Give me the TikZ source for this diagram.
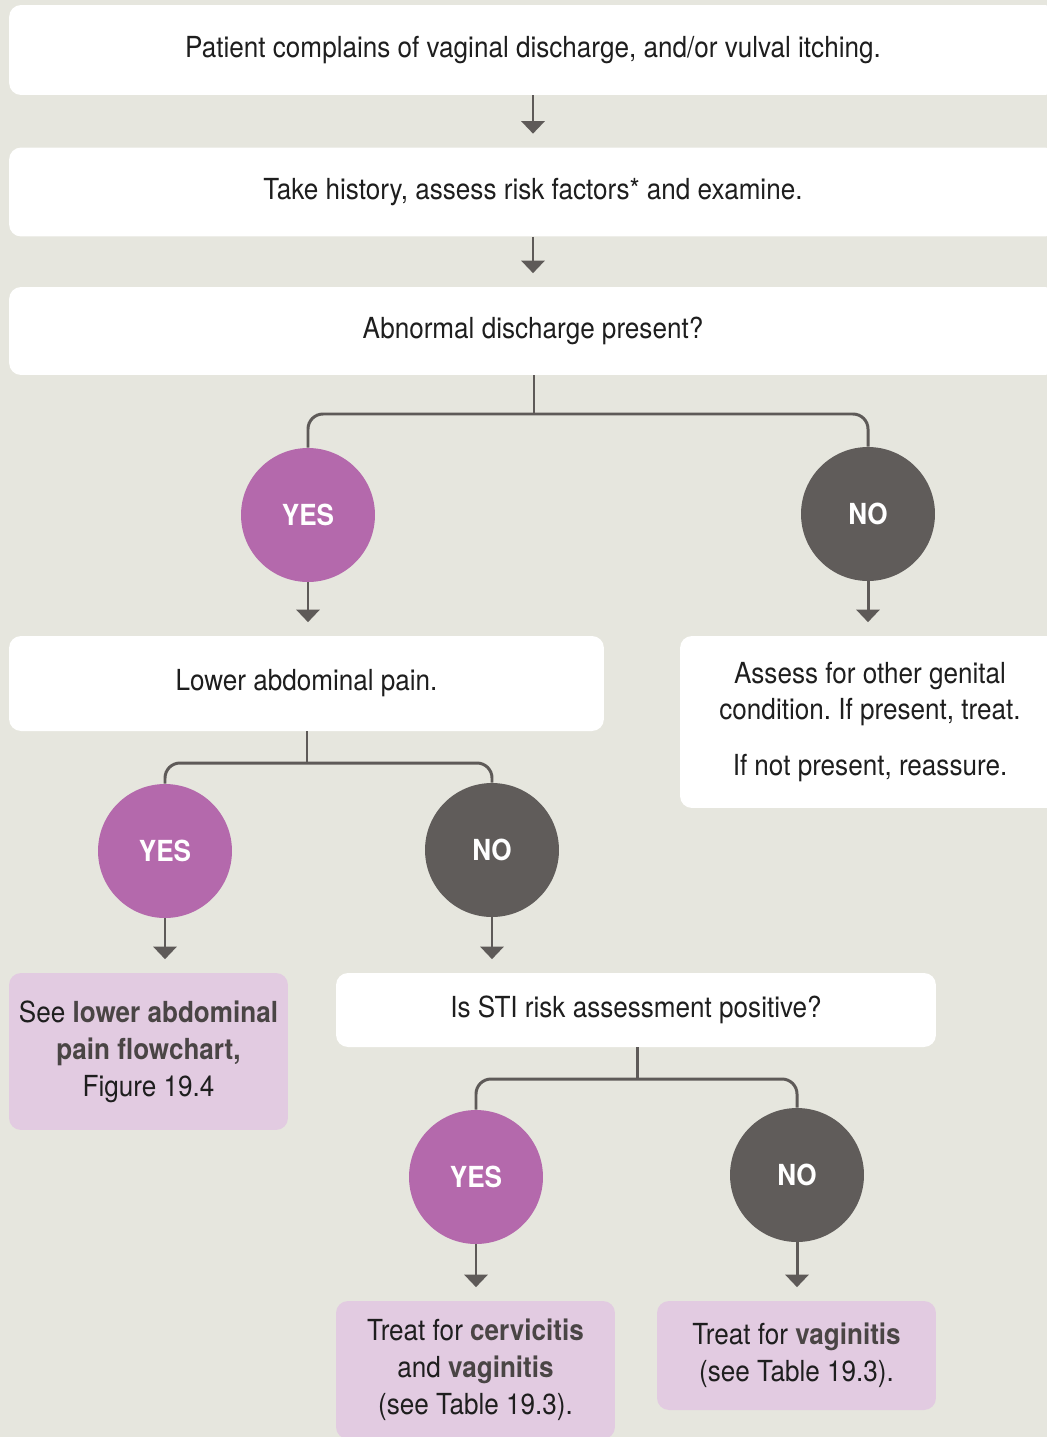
\documentclass[tikz,border=0pt]{standalone}
\usepackage{fontspec}
\setmainfont{TeX Gyre Heros}[FakeStretch=0.9]
\usetikzlibrary{arrows.meta}

\definecolor{bgcol}{HTML}{E6E6DE}
\definecolor{yescol}{HTML}{B469AC}
\definecolor{nocol}{HTML}{605C5A}
\definecolor{lilac}{HTML}{E2CBE1}
\definecolor{linecol}{HTML}{5E5A58}
\definecolor{boldcol}{HTML}{4A4545}
\definecolor{txtcol}{HTML}{1E1E1E}
\newcommand\keyw[1]{{\bfseries\color{boldcol}#1}}
\frenchspacing

\begin{document}
\begin{tikzpicture}[x=0.02cm,y=-0.02cm,
    every node/.style={font=\fontsize{16.5}{21}\selectfont,text=txtcol},
    box/.style={fill=white,rounded corners=0.24cm,align=center,inner sep=0pt},
    pinkbox/.style={box,fill=lilac},
    yes/.style={circle,fill=yescol,minimum size=2.68cm,inner sep=0pt,text=white,
        font=\fontsize{16.5}{21}\selectfont\bfseries},
    no/.style={yes,fill=nocol},
    conn/.style={draw=linecol,line width=1.7pt},
    fork/.style={conn,rounded corners=0.3cm},
    arr/.style={conn,-{Triangle[width=0.46cm,length=0.25cm]},shorten >=0.27cm}]
    % background and frame
    \fill[bgcol] (0,0) rectangle (1047,1437);
    \clip (0,0) rectangle (1047,1437);
    % boxes
    \node[box,minimum width=20.96cm,minimum height=1.8cm] (start) at (533,50)
        {Patient complains of vaginal discharge, and/or vulval itching.};
    \node[box,minimum width=20.96cm,minimum height=1.78cm] (hist) at (533,192)
        {Take history, assess risk factors* and examine.};
    \node[box,minimum width=20.96cm,minimum height=1.76cm] (abn) at (533,331)
        {Abnormal discharge present?};
    \node[yes] (yesA) at (308,515) {YES};
    \node[no] (noA) at (868,514) {NO};
    \node[box,minimum width=11.9cm,minimum height=1.9cm] (pain) at (306.5,683.5)
        {Lower abdominal pain.\rule[-3pt]{0pt}{0pt}};
    \node[box,minimum width=7.6cm,minimum height=3.44cm] (other) at (870,722)
        {Assess for other genital\\condition. If present, treat.\\[0.38cm]If not present, reassure.};
    \node[yes] (yesB) at (165,851) {YES};
    \node[no] (noB) at (492,850) {NO};
    \node[pinkbox,minimum width=5.58cm,minimum height=3.14cm] (see) at (148.5,1051.5)
        {See \keyw{lower abdominal}\\\keyw{pain flowchart,}\\Figure 19.4};
    \node[box,minimum width=12cm,minimum height=1.48cm] (sti) at (636,1010)
        {Is STI risk assessment positive?};
    \node[yes] (yesC) at (476,1177) {YES};
    \node[no] (noC) at (797,1175) {NO};
    \node[pinkbox,minimum width=5.58cm,minimum height=2.76cm] (cerv) at (475.5,1370)
        {Treat for \keyw{cervicitis}\\and \keyw{vaginitis}\\(see Table 19.3).};
    \node[pinkbox,minimum width=5.58cm,minimum height=2.18cm] (vag) at (796.5,1355.5)
        {Treat for \keyw{vaginitis}\\(see Table 19.3).\rule[-4pt]{0pt}{0pt}};
    % straight arrows
    \draw[arr] (start.south) -- (start.south |- hist.north);
    \draw[arr] (hist.south) -- (hist.south |- abn.north);
    \foreach \c/\b in {yesA/pain,noA/other,yesB/see,noB/sti,yesC/cerv,noC/vag}
        \draw[arr] (\c.south) -- (\c.south |- \b.north);
    % forks
    \coordinate (forkA) at (534,414);
    \coordinate (forkB) at (307,763);
    \coordinate (forkC) at (637,1079);
    \draw[conn] (abn.south -| forkA) -- (forkA);
    \draw[fork] (yesA.north) |- (forkA) -| (noA.north);
    \draw[conn] (pain.south -| forkB) -- (forkB);
    \draw[fork] (yesB.north) |- (forkB) -| (noB.north);
    \draw[conn] (sti.south -| forkC) -- (forkC);
    \draw[fork] (yesC.north) |- (forkC) -| (noC.north);
\end{tikzpicture}
\end{document}
